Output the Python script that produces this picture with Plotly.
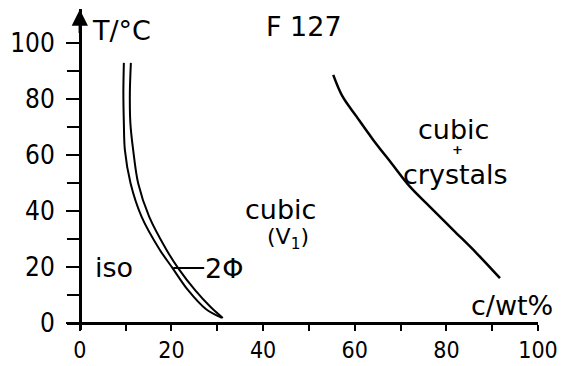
import plotly.graph_objects as go

# ---- data ----
# iso / 2-phase boundary (left line of the double curve)
iso_c = [9.61, 9.50, 9.61, 9.83, 11.07, 13.47, 17.47, 20.24, 23.58, 27.5, 31.0]
iso_T = [92.9, 82.1, 71.4, 61.8, 49.9, 38.0, 26.1, 19.6, 11.8, 5.0, 1.8]
# 2-phase / cubic boundary (right line of the double curve)
cub_c = [11.14, 10.92, 11.03, 11.64, 12.73, 15.13, 18.93, 21.46, 25.11, 28.6, 31.2]
cub_T = [92.9, 82.1, 71.4, 61.8, 49.9, 38.0, 26.1, 19.6, 11.8, 5.6, 1.8]
# cubic / cubic + crystals boundary
cry_c = [55.31, 57.3, 60.41, 64.04, 68.06, 72.05, 76.42, 81.51, 86.62, 91.70]
cry_T = [88.6, 81.0, 73.7, 65.4, 57.0, 48.7, 41.5, 33.2, 24.9, 16.0]

x_ticks = [0, 20, 40, 60, 80, 100]
x_minor = [10, 30, 50, 70, 90]
y_ticks = [0, 20, 40, 60, 80, 100]
y_minor = [10, 30, 50, 70, 90]

x_range = [-2.8, 100]
y_range = [-2.5, 112.14]

FONT = "DejaVu Sans"
TICKFONT = "DejaVu Sans Condensed, Liberation Sans Narrow, Roboto, DejaVu Sans"

fig = go.Figure()
fig.add_trace(go.Scatter(x=iso_c, y=iso_T, mode="lines",
                         line=dict(color="black", width=2, shape="spline", smoothing=0.9), hoverinfo="skip"))
fig.add_trace(go.Scatter(x=cub_c, y=cub_T, mode="lines",
                         line=dict(color="black", width=2, shape="spline", smoothing=0.9), hoverinfo="skip"))
fig.add_trace(go.Scatter(x=cry_c, y=cry_T, mode="lines",
                         line=dict(color="black", width=2.5, shape="spline", smoothing=1.0), hoverinfo="skip"))

xpos = (0 - y_range[0]) / (y_range[1] - y_range[0])
ypos = (0 - x_range[0]) / (x_range[1] - x_range[0])

fig.update_layout(
    width=566, height=366,
    margin=dict(l=67, r=28, t=9, b=36, autoexpand=False),
    paper_bgcolor="white", plot_bgcolor="white",
    showlegend=False,
    xaxis=dict(range=x_range, anchor="free", position=xpos, automargin=False,
               showline=True, linecolor="black", linewidth=2.5,
               showgrid=False, zeroline=False,
               tickmode="array", tickvals=x_ticks, ticktext=[str(v) for v in x_ticks],
               ticks="outside", ticklen=6, tickwidth=2, tickcolor="black",
               minor=dict(tickmode="array", tickvals=x_minor, ticks="outside", ticklen=6, tickwidth=2, tickcolor="black"),
               tickfont=dict(family=TICKFONT, size=23, color="black")),
    yaxis=dict(range=y_range, anchor="free", position=ypos, automargin=False,
               showline=True, linecolor="black", linewidth=2.5,
               showgrid=False, zeroline=False,
               tickmode="array", tickvals=y_ticks, ticktext=[str(v) for v in y_ticks],
               ticks="outside", ticklen=13, tickwidth=2, tickcolor="black",
               ticklabelstandoff=6,
               minor=dict(tickmode="array", tickvals=y_minor, ticks="outside", ticklen=12, tickwidth=2, tickcolor="black"),
               tickfont=dict(family=TICKFONT, size=26, color="black")),
)

tf = dict(family=FONT, size=27, color="black")
ann = [
    dict(x=2.2, y=104.6, text="T/°C", xanchor="left"),
    dict(x=49, y=106, text="F 127"),
    dict(x=81.5, y=69.0, text="cubic"),
    dict(x=82.5, y=61.8, text="<b>+</b>", font=dict(family=FONT, size=13, color="black")),
    dict(x=81.9, y=53.2, text="crystals"),
    dict(x=43.9, y=40.6, text="cubic"),
    dict(x=45.4, y=30.2, text="(V<sub>1</sub>)", font=dict(family=FONT, size=22, color="black")),
    dict(x=7.5, y=20, text="iso"),
    dict(x=94.4, y=6.4, text="c/wt%"),
]
for a in ann:
    a.setdefault("font", tf)
    fig.add_annotation(showarrow=False, xref="x", yref="y", **a)

# 2-phase label with leader line
fig.add_annotation(x=20.4, y=19.6, ax=31.4, ay=19.6, axref="x", ayref="y",
                   xref="x", yref="y", text="2Φ", font=tf, showarrow=True,
                   arrowhead=0, arrowwidth=2, arrowcolor="black", borderpad=0)
# arrowhead at the top of the temperature axis
fig.add_annotation(x=0, y=112, ax=0, ay=103, axref="x", ayref="y",
                   xref="x", yref="y", text="", showarrow=True,
                   arrowhead=2, arrowsize=1.3, arrowwidth=2.5, arrowcolor="black")

fig.write_html("out.html")
